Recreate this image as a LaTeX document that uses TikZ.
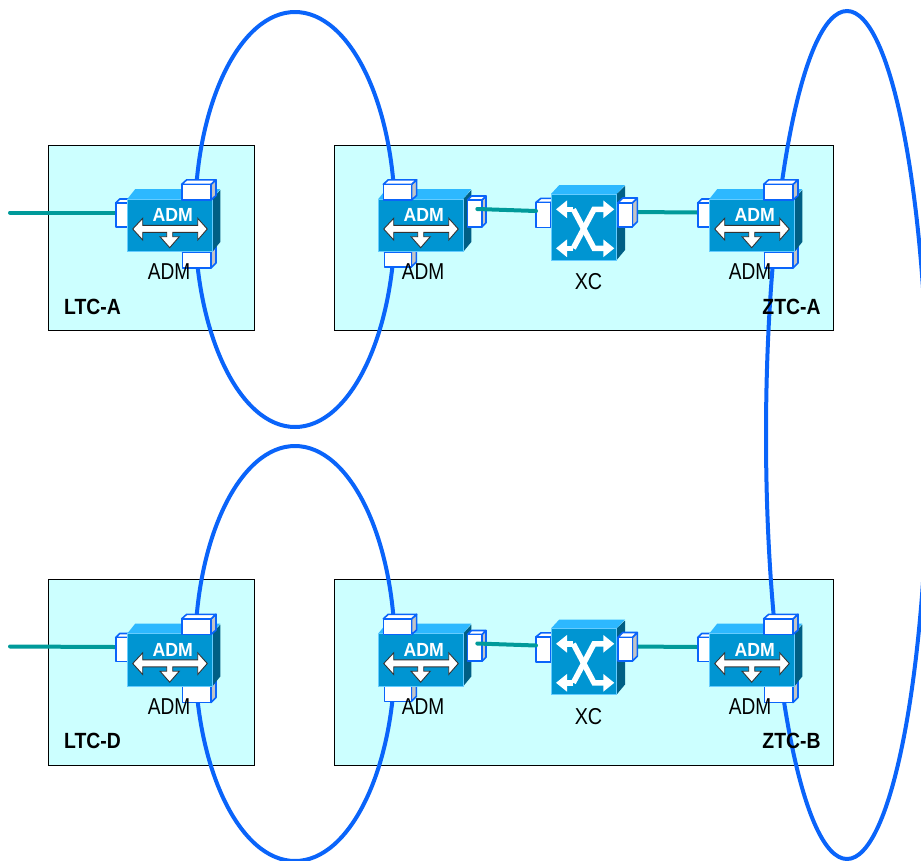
\documentclass[tikz,border=0pt]{standalone}
\usepackage{fontspec}
\setmainfont{Liberation Sans}
\usetikzlibrary{backgrounds,arrows.meta,calc}
\definecolor{ringblue}{HTML}{0A64FA}
\definecolor{linkteal}{HTML}{009A9A}
\definecolor{regionfill}{HTML}{CCFFFF}
\definecolor{bodyfront}{HTML}{0095D2}
\definecolor{bodyedge}{HTML}{66CCFF}
\definecolor{bodytop}{HTML}{2DB8FF}
\definecolor{bodyside}{HTML}{005F85}
\definecolor{portgrey}{HTML}{C4C4C4}
\tikzset{
  region/.style={draw=black,line width=1.1pt,fill=regionfill,anchor=north west,inner sep=0pt},
  ring/.style={draw=ringblue,line width=4pt},
  link/.style={draw=linkteal,line width=4pt,line cap=round},
  front/.style={fill=bodyfront,draw=bodyedge,line width=1pt},
  topface/.style={fill=bodytop,draw=none},
  sideface/.style={fill=bodyside,draw=none},
  portedge/.style={draw=ringblue,line width=1.6pt,line join=round},
  glyph/.style={fill=white,draw=black!80,line width=.9pt,line join=miter},
  xwhite/.style={draw=white,line width=5.5pt,line join=miter,-{Triangle[width=17pt,length=11pt]}},
  lab/.style={font=\fontsize{23}{23}\selectfont,inner sep=0pt,text=black},
  tag/.style={font=\fontsize{22}{22}\selectfont\bfseries,inner sep=0pt,text=black},
  icontext/.style={font=\fontsize{19}{19}\selectfont\bfseries,inner sep=0pt,text=white},
}
% x1 y1 x2 y2 = front face, dx dy = depth
\newcommand{\portcube}[7]{%
  \path[portedge,fill=portgrey] (#3,#2) -- ++(#5,#6) -- ($(#3,#4)+(#5,#6)$) -- (#3,#4) -- cycle;
  \path[portedge,fill=white] (#1,#2) -- ++(#5,#6) -- ($(#3,#2)+(#5,#6)$) -- (#3,#2) -- cycle;
  \node[portedge,fill=white,anchor=north west,inner sep=0pt,outer sep=0pt,minimum width={(#3-(#1))*1pt},minimum height={(#4-(#2))*1pt}] (#7) at (#1,#2) {};
}
\newcommand{\admbody}[1]{%
  \fill[topface] (0,0) -- (8,-10) -- (93,-10) -- (85,0) -- cycle;
  \fill[sideface] (85,0) -- (93,-9) -- (93,43) -- (85,52.7) -- cycle;
  \draw[front] (0,0) rectangle (85,52.7);
  \draw[glyph] (5.4,30) -- (15.4,19.3) -- (15.4,26.4) -- (70.4,26.4) -- (70.4,19.3) -- (80,30)
     -- (70.4,41) -- (70.4,33.4) -- (45.4,33.4) -- (45.4,37.7) -- (52,37.7) -- (42.4,48.7)
     -- (32.7,37.7) -- (39.4,37.7) -- (39.4,33.4) -- (15.4,33.4) -- (15.4,41) -- cycle;
  \node[icontext] (#1-name) at (45.4,16) {\scalebox{.93}[1]{ADM}};
}
% ADM with ports on the left and at the right-hand top and bottom
\newcommand{\admleft}[3]{%
  \begin{scope}[shift={(#2,#3)}]
    \portcube{55}{52.7}{83.7}{69}{5}{-5}{#1-bottom}
    \portcube{-11.6}{4}{0}{28}{4}{-4}{#1-left}
    \admbody{#1}
    \portcube{54.4}{-14.7}{83.7}{1}{5}{-4.5}{#1-top}
    \coordinate (#1-in) at (-11.6,13.5);
  \end{scope}}
% ADM with ports on the right and at the left-hand top and bottom
\newcommand{\admright}[3]{%
  \begin{scope}[shift={(#2,#3)}]
    \portcube{6}{52.7}{33}{68}{5}{-5}{#1-bottom}
    \admbody{#1}
    \portcube{5}{-14.7}{33.3}{1}{5}{-4.5}{#1-top}
    \portcube{89.3}{1}{103.7}{27.7}{4}{-4}{#1-right}
    \coordinate (#1-out) at (99,10);
  \end{scope}}
\newcommand{\xcbox}[2]{%
  \begin{scope}[shift={(551,#2)}]
    \portcube{-15}{8.3}{0}{33.3}{5}{-4}{#1-left}
    \fill[topface] (0,0) -- (8.3,-9) -- (74,-9) -- (65.7,0) -- cycle;
    \fill[sideface] (65.7,0) -- (74,-8) -- (74,56) -- (65.7,66) -- cycle;
    \draw[front] (0,0) rectangle (65.7,66);
    \draw[xwhite] (22.3,15.3) -- (43,54.3) -- (63.3,54.3);
    \draw[xwhite] (22.3,54.3) -- (43,15.3) -- (63.3,15.3);
    \draw[xwhite] (22.3,15.3) -- (5,15.3);
    \draw[xwhite] (22.3,54.3) -- (5,54.3);
    \portcube{66.7}{9}{81.3}{32.7}{5}{-5}{#1-right}
    \coordinate (#1-in) at (-15,17);
    \coordinate (#1-out) at (81.3,18);
  \end{scope}}
\begin{document}
\begin{tikzpicture}[x=1pt,y=-1pt]
\useasboundingbox (0,0) rectangle (921,860);
\clip (0,0) rectangle (921,860);

% devices
\admleft{admA}{127.3}{199}
\admright{admB}{378.3}{199}
\xcbox{xcA}{194}
\admleft{admC}{709.3}{199}
\admleft{admD}{127.3}{633.5}
\admright{admE}{378.3}{633.5}
\xcbox{xcB}{628.5}
\admleft{admF}{709.3}{633.5}

\coordinate (feedA) at (10,212.5);
\coordinate (feedD) at (10,646.5);

\begin{pgfonlayer}{background}
  \node[region,minimum width=206pt,minimum height=185.5pt] (ltcA) at (48,144.5) {};
  \node[region,minimum width=499pt,minimum height=185.5pt] (ztcA) at (333.5,144.5) {};
  \node[region,minimum width=206pt,minimum height=186pt] (ltcD) at (48,578.5) {};
  \node[region,minimum width=499pt,minimum height=186pt] (ztcB) at (333.5,578.5) {};
  \draw[ring] (295,219.5) ellipse [x radius=100,y radius=207.5];
  \draw[ring] (295,653.5) ellipse [x radius=100,y radius=207.5];
  \draw[ring] (847,435) ellipse [x radius=81,y radius=424];
  \draw[link] (feedA) -- (admA-in);
  \draw[link] (feedD) -- (admD-in);
  \draw[link] (xcA-out) -- (admC-in);
  \draw[link] (xcB-out) -- (admF-in);
\end{pgfonlayer}

\draw[link] (admB-out) -- (xcA-in);
\draw[link] (admE-out) -- (xcB-in);

% labels
\node[lab] (lblA) at (169,272) {\scalebox{.83}[1]{ADM}};
\node[lab] (lblB) at (423,272) {\scalebox{.83}[1]{ADM}};
\node[lab] (lblC) at (750,272) {\scalebox{.83}[1]{ADM}};
\node[lab] (lblD) at (169,706.5) {\scalebox{.83}[1]{ADM}};
\node[lab] (lblE) at (423,706.5) {\scalebox{.83}[1]{ADM}};
\node[lab] (lblF) at (750,706.5) {\scalebox{.83}[1]{ADM}};
\node[lab] (lblX1) at (588.5,282) {\scalebox{.86}[1]{XC}};
\node[lab] (lblX2) at (588.5,716.5) {\scalebox{.86}[1]{XC}};
\node[tag] (tagA) at (92.5,307) {\scalebox{.88}[1]{LTC-A}};
\node[tag] (tagB) at (791.5,306.5) {\scalebox{.88}[1]{ZTC-A}};
\node[tag] (tagD) at (92.5,741) {\scalebox{.88}[1]{LTC-D}};
\node[tag] (tagE) at (791.5,741) {\scalebox{.88}[1]{ZTC-B}};
\end{tikzpicture}
\end{document}
